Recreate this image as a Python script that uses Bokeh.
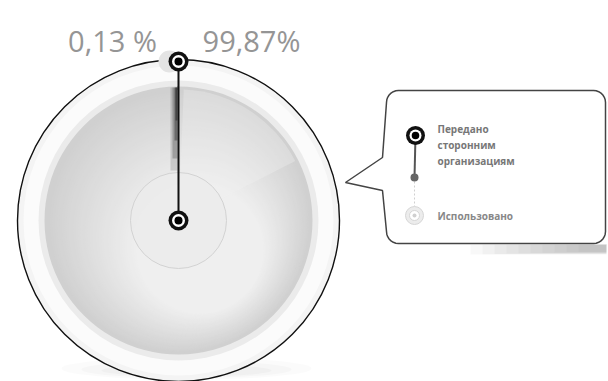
import numpy as np
from bokeh.plotting import figure
from bokeh.models import Range1d
from bokeh.core.properties import value
from bokeh.embed import file_html
from bokeh.resources import INLINE

# ---- data ----
categories = ["Передано сторонним организациям", "Использовано"]
shares = [0.13, 99.87]
pct_labels = ["0,13 %", "99,87%"]
legend_lines_1 = ["Передано", "сторонним", "организациям"]
legend_label_2 = "Использовано"

W, H = 608, 381
p = figure(width=W, height=H, output_backend="svg", toolbar_location=None,
           x_range=Range1d(0, W), y_range=Range1d(0, H), min_border=0,
           background_fill_color="white", border_fill_color="white")
p.axis.visible = False
p.grid.visible = False
p.outline_line_color = None

def Y(y):
    return H - y

cx, cy = 178, Y(220)
R_out, R_in, R_hub = 161, 134, 48

# soft shadow under the pie
for i, a in enumerate([0.03, 0.04, 0.05]):
    p.ellipse(x=cx + 8, y=Y(368) - i, width=250 - 40 * i, height=22 - 5 * i,
              fill_color="#808080", fill_alpha=a, line_color=None)

# outer ring
p.circle(x=cx, y=cy, radius=R_out, fill_color="#f4f4f4", line_color="#111111", line_width=1.4)
p.circle(x=cx, y=cy, radius=R_out - 6, fill_color="#fbfbfb", line_color=None)
p.circle(x=cx, y=cy, radius=R_in + 6, fill_color="#ebebeb", line_color=None)

# pie slices from data (start at top, small slice to the left)
fr = np.array(shares) / sum(shares)
start = np.pi / 2
ends = start + 2 * np.pi * np.cumsum(fr)
starts = np.concatenate([[start], ends[:-1]])
pie_colors = ["#2a2a2a", "#d0d0d0"]
p.wedge(x=cx, y=cy, radius=R_in, start_angle=starts, end_angle=ends,
        fill_color=pie_colors, line_color=None)

# smooth radial-ish gradient on the big slice (darker upper-left)
N = 40
for i in range(1, N):
    t = i / N
    ox, oy = 22 * t, -30 * t
    rr = (R_in - 1) * (1 - t) + 62 * t
    g = int(0xd0 + (0xf0 - 0xd0) * t)
    p.circle(x=cx + ox, y=cy + oy, radius=rr, fill_color="#%02x%02x%02x" % (g, g, g),
             line_color=None)
# highlight upper-right
p.wedge(x=cx, y=cy, radius=R_in - 3, start_angle=np.pi * 0.15, end_angle=np.pi / 2 - 0.04,
        fill_color="#f2f2f2", fill_alpha=0.35, line_color=None)

# dark shadow next to the small slice
for k, (w, a, yb) in enumerate([(7, 0.15, 170), (5, 0.25, 158), (3, 0.4, 140), (2, 0.5, 120)]):
    p.quad(left=cx - 1 - w, right=cx - 1, top=Y(87), bottom=Y(yb),
           fill_color="#222222", fill_alpha=a, line_color=None)

# hub
p.circle(x=cx, y=cy, radius=R_hub, fill_color="#ebebeb", fill_alpha=0.8, line_color="#d2d2d2", line_width=1)

# connector line + markers
p.circle(x=cx - 9, y=Y(61), radius=11, fill_color="#e4e4e4", line_color=None)
p.segment(x0=cx, y0=Y(61), x1=cx, y1=cy, line_color="#111111", line_width=2)
for my in [Y(61), cy]:
    p.circle(x=cx, y=my, radius=10, fill_color="#111111", line_color=None)
    p.circle(x=cx, y=my, radius=6.5, fill_color="white", line_color=None)
    p.circle(x=cx, y=my, radius=4, fill_color="#000000", line_color=None)

# percentage labels
p.text(x=[112, 251], y=[Y(40), Y(40)], text=pct_labels, text_align="center",
       text_baseline="middle", text_font=value("Open Sans"), text_font_size="29px",
       text_color="#959595")

# legend box shadow
for k in range(10):
    p.quad(left=470 + 12 * k, right=606, top=Y(244), bottom=Y(254 - k * 0.3),
           fill_color="#7a7a7a", fill_alpha=0.05, line_color=None)

# legend callout box (rounded rect + pointer)
def arc(xc, yc, r, a0, a1, n=8):
    t = np.linspace(a0, a1, n)
    return list(xc + r * np.cos(t)), list(yc + r * np.sin(t))

r = 12
L, Rt, T, B = 386, 605, Y(90), Y(243)
xs, ys = [], []
ax, ay = arc(L + r, T - r, r, np.pi, np.pi / 2); xs += ax; ys += ay
ax, ay = arc(Rt - r, T - r, r, np.pi / 2, 0); xs += ax; ys += ay
ax, ay = arc(Rt - r, B + r, r, 0, -np.pi / 2); xs += ax; ys += ay
ax, ay = arc(L + r, B + r, r, -np.pi / 2, -np.pi); xs += ax; ys += ay
xs += [382, 345, 382]; ys += [Y(190), Y(182), Y(157)]
p.patch(x=xs, y=ys, fill_color="white", line_color="#444444", line_width=1.5)

# legend markers
lx = 415
p.segment(x0=lx, y0=Y(135), x1=lx - 1, y1=Y(177), line_color="#555555", line_width=2)
p.segment(x0=lx - 1, y0=Y(181), x1=lx - 1, y1=Y(206), line_color="#d0d0d0", line_width=1,
          line_dash="2 2")
p.circle(x=lx - 1, y=Y(177), radius=4, fill_color="#666666", line_color=None)
p.circle(x=lx, y=Y(135), radius=9.5, fill_color="#111111", line_color=None)
p.circle(x=lx, y=Y(135), radius=6, fill_color="white", line_color=None)
p.circle(x=lx, y=Y(135), radius=3.8, fill_color="#000000", line_color=None)
p.circle(x=lx - 1, y=Y(215), radius=9, fill_color="#ececec", line_color="#d6d6d6", line_width=1)
p.circle(x=lx - 1, y=Y(215), radius=5, fill_color="white", line_color="#d6d6d6", line_width=1)
p.circle(x=lx - 1, y=Y(215), radius=2, fill_color="#d0d0d0", line_color=None)

# legend texts
p.text(x=[437] * 3, y=[Y(128), Y(144), Y(160)], text=legend_lines_1, text_align="left",
       text_baseline="middle", text_font=value("Open Sans"), text_font_size="10px",
       text_font_style="bold", text_color="#777777")
p.text(x=[437], y=[Y(215)], text=[legend_label_2], text_align="left",
       text_baseline="middle", text_font=value("Open Sans"), text_font_size="10px",
       text_font_style="bold", text_color="#888888")

open("out.html", "w").write(file_html(p, INLINE))
